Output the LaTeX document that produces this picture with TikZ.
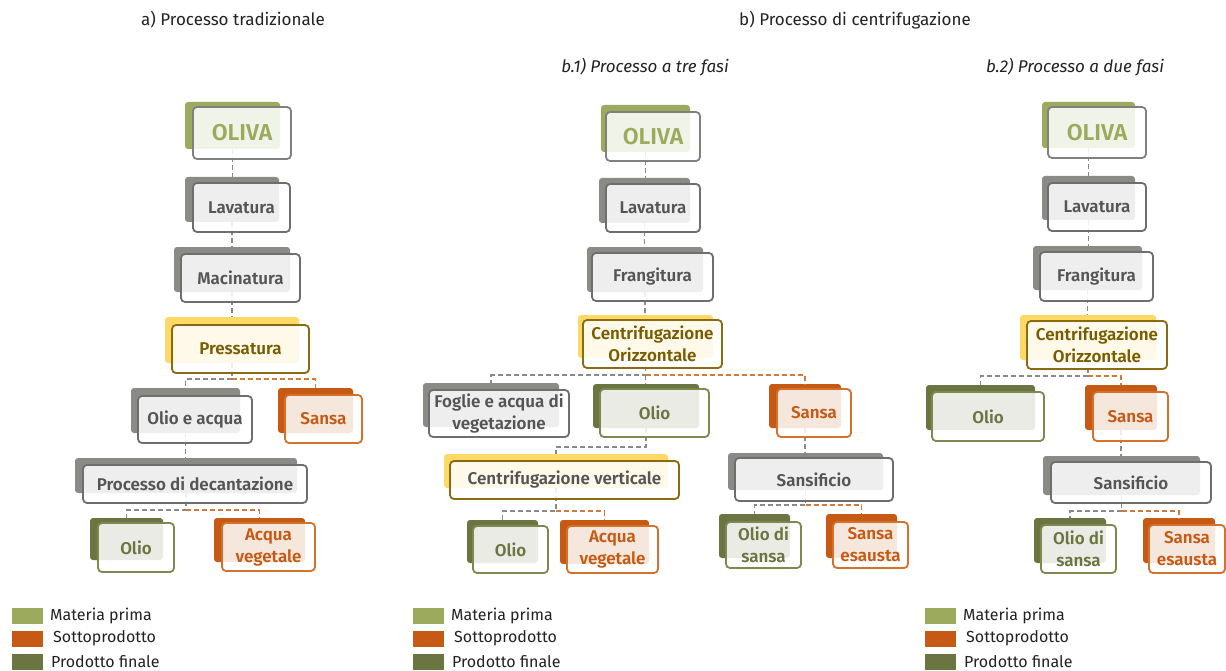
\documentclass[tikz,border=0pt]{standalone}
\usepackage{fontspec}
\setmainfont{Fira Sans}[BoldFont={Fira Sans SemiBold}, BoldItalicFont={Fira Sans SemiBold Italic}]
\usetikzlibrary{fit,calc}

\definecolor{rawgreen}{HTML}{9BAA5D}
\definecolor{byorange}{HTML}{C65A14}
\definecolor{prodolive}{HTML}{6B7541}
\definecolor{shadegray}{HTML}{8A8A87}
\definecolor{framegray}{HTML}{6E6E6E}
\definecolor{labelgray}{HTML}{555555}
\definecolor{shadeyellow}{HTML}{FFD966}
\definecolor{framegold}{HTML}{8C6A12}
\definecolor{labelgold}{HTML}{7A5C00}
\definecolor{frameolive}{HTML}{7E8850}
\definecolor{frameorange}{HTML}{D4712C}
\definecolor{linkgray}{HTML}{8A8A8A}
\definecolor{linkorange}{HTML}{D27A3A}
\definecolor{inkdark}{HTML}{222222}

\pgfdeclarelayer{paper}
\pgfdeclarelayer{shadows}
\pgfdeclarelayer{links}
\pgfsetlayers{paper,shadows,links,main}

\tikzset{
  backbase/.style={inner sep=0pt, rounded corners=3pt, draw=none},
  frontbase/.style={inner sep=0pt, rounded corners=4pt, line width=1.8pt,
    fill=white, fill opacity=0.86},
  labelbase/.style={inner sep=0pt, align=center,
    font=\bfseries\fontsize{17}{22}\selectfont},
  gray back/.style={backbase, fill=shadegray},
  gray front/.style={frontbase, draw=framegray},
  gray label/.style={labelbase, text=labelgray},
  gold back/.style={backbase, fill=shadeyellow},
  gold front/.style={frontbase, draw=framegold},
  gold label/.style={labelbase, text=labelgold},
  raw back/.style={backbase, fill=rawgreen},
  raw front/.style={frontbase, draw=gray},
  raw label/.style={labelbase, text=rawgreen, font=\bfseries\fontsize{23}{26}\selectfont},
  prod back/.style={backbase, fill=prodolive},
  prod front/.style={frontbase, draw=frameolive},
  prod label/.style={labelbase, text=prodolive},
  by back/.style={backbase, fill=byorange},
  by front/.style={frontbase, draw=frameorange},
  by label/.style={labelbase, text=byorange},
  glink/.style={draw=linkgray, line width=1.9pt, dash pattern=on 5pt off 3pt},
  olink/.style={draw=linkorange, line width=1.9pt, dash pattern=on 5pt off 3pt},
  heading/.style={text=inkdark, font=\fontsize{17}{20}\selectfont},
  subheading/.style={text=inkdark, font=\itshape\fontsize{17}{20}\selectfont},
  legendtext/.style={anchor=west, text=inkdark, inner sep=0pt, font=\fontsize{16}{18}\selectfont},
}

% #1 name, #2 kind, #3/#4 corners of the coloured backing, #5/#6 corners of the framed box, #7 label
\newcommand\procbox[7]{%
  \begin{pgfonlayer}{shadows}
    \node[#2 back, fit={(#3) (#4)}] (#1s) {};
  \end{pgfonlayer}
  \node[#2 front, fit={(#5) (#6)}] (#1) {};
  \node[#2 label] (#1t) at (#1.center) {#7};
}

\begin{document}
\begin{tikzpicture}[x=1pt, y=-1pt]
\begin{pgfonlayer}{paper}
  \fill[white] (0,0) rectangle (1226,671);
\end{pgfonlayer}
\useasboundingbox (0,0) rectangle (1226,671);

% headings
\node[heading] (ta) at (233,20) {a) Processo tradizionale};
\node[heading] (tb) at (855,20) {b) Processo di centrifugazione};
\node[subheading] (tb1) at (645,67) {b.1) Processo a tre fasi};
\node[subheading] (tb2) at (1075,67) {b.2) Processo a due fasi};

% ---------- a) traditional process ----------
\procbox{aOliva}{raw}{185,102}{280,149}{193,107}{291,159}{OLIVA}
\procbox{aLav}{gray}{185,177}{279,222}{193,183}{290,232}{Lavatura}
\procbox{aMac}{gray}{174,247}{290,292}{181,254}{300,302}{Macinatura}
\procbox{aPress}{gold}{165,317}{299,363}{172,325}{309,373}{Pressatura}
\procbox{aOA}{gray}{131,388}{240,433}{138,396}{252,443}{Olio e acqua}
\procbox{aSansa}{by}{278,388}{353,433}{285,395}{362,443}{Sansa}
\procbox{aDec}{gray}{75,458}{297,493}{83,465}{307,503}{Processo di decantazione}
\procbox{aOlio}{prod}{90,518}{163,560}{98,523}{174,572}{Olio}
\procbox{aAcqua}{by}{214,518}{305,562}{222,523}{315,571}{Acqua\\vegetale}

% ---------- b.1) three-phase process ----------
\procbox{bOliva}{raw}{601,105}{690,152}{606,112}{700,161}{OLIVA}
\procbox{bLav}{gray}{599,178}{690,223}{606,184}{700,232}{Lavatura}
\procbox{bFrang}{gray}{587,247}{703,292}{592,253}{713,301}{Frangitura}
\procbox{bCO}{gold}{578,315}{713,358}{583,320}{722,368}{Centrifugazione\\Orizzontale}
\procbox{bFoglie}{gray}{423,383}{559,427}{429,390}{569,437}{Foglie e acqua di\\vegetazione}
\procbox{bOlio}{prod}{593,384}{699,428}{600,389}{709,437}{Olio}
\procbox{bSansa}{by}{769,384}{841,428}{777,389}{851,437}{Sansa}
\procbox{bCV}{gold}{444,454}{668,488}{450,461}{679,499}{\textcolor{labelgray}{Centrifugazione verticale}}
\procbox{bOlioB}{prod}{467,520}{538,563}{473,526}{548,573}{Olio}
\procbox{bAcqua}{by}{560,520}{649,564}{567,526}{658,573}{Acqua\\vegetale}
\procbox{bSansif}{gray}{728,453}{883,490}{735,458}{893,501}{Sansificio}
\procbox{bOds}{prod}{719,514}{790,558}{726,522}{801,568}{Olio di\\sansa}
\procbox{bSE}{by}{826,514}{897,558}{833,522}{908,568}{Sansa\\esausta}

% ---------- b.2) two-phase process ----------
\procbox{cOliva}{raw}{1042,102}{1135,148}{1048,107}{1146,158}{OLIVA}
\procbox{cLav}{gray}{1042,176}{1135,220}{1048,183}{1146,231}{Lavatura}
\procbox{cFrang}{gray}{1033,246}{1142,290}{1040,252}{1153,301}{Frangitura}
\procbox{cCO}{gold}{1020,315}{1156,360}{1027,321}{1167,369}{Centrifugazione\\Orizzontale}
\procbox{cOlio}{prod}{926,385}{1035,430}{932,392}{1044,441}{Olio}
\procbox{cSansa}{by}{1085,385}{1157,430}{1093,392}{1168,441}{Sansa}
\procbox{cSansif}{gray}{1043,456}{1200,495}{1051,462}{1211,503}{Sansificio}
\procbox{cOds}{prod}{1034,518}{1106,563}{1041,525}{1116,573}{Olio di\\sansa}
\procbox{cSE}{by}{1143,518}{1215,563}{1149,525}{1225,573}{Sansa\\esausta}

% ---------- connectors ----------
\begin{pgfonlayer}{links}
  % a)
  \draw[glink] (aOlivas.south) -- (aOlivas.south |- aLavs.north);
  \draw[glink] (aLavs.south) -- (aLavs.south |- aMacs.north);
  \draw[glink] (aMacs.south) -- (aMacs.south |- aPresss.north);
  \coordinate (aJa) at ($(aPresss.south)+(0,16)$);
  \draw[glink] (aPresss.south) -- (aJa) -| (aOAs.north);
  \draw[olink] (aJa) -| (aSansas.north);
  \draw[glink] (aOAs.south) -- (aOAs.south |- aDecs.north);
  \coordinate (aJb) at ($(aDecs.south)+(0,17)$);
  \draw[glink] (aDecs.south) -- (aJb) -| (aOlios.north);
  \draw[olink] (aJb) -| (aAcquas.north);
  % b.1)
  \draw[glink] (bOlivas.south) -- (bOlivas.south |- bLavs.north);
  \draw[glink] (bLavs.south) -- (bLavs.south |- bFrangs.north);
  \draw[glink] (bFrangs.south) -- (bFrangs.south |- bCOs.north);
  \coordinate (bJa) at ($(bCOs.south)+(0,17)$);
  \draw[glink] (bCOs.south) -- (bJa) -| (bFoglies.north);
  \draw[glink] (bJa) -- (bJa |- bOlios.north);
  \draw[olink] (bJa) -| (bSansas.north);
  \coordinate (bJb) at ($(bOlios.south)+(0,19)$);
  \draw[glink] (bOlios.south) -- (bJb) -| (bCVs.north);
  \coordinate (bJc) at ($(bCVs.south)+(0,23)$);
  \draw[glink] (bCVs.south) -- (bJc) -| (bOlioBs.north);
  \draw[olink] (bJc) -| (bAcquas.north);
  \draw[glink] (bSansas.south) -- (bSansas.south |- bSansifs.north);
  \coordinate (bJd) at ($(bSansifs.south)+(0,15)$);
  \draw[glink] (bSansifs.south) -- (bJd) -| (bOdss.north);
  \draw[olink] (bJd) -| (bSEs.north);
  % b.2)
  \draw[glink] (cOlivas.south) -- (cOlivas.south |- cLavs.north);
  \draw[glink] (cLavs.south) -- (cLavs.south |- cFrangs.north);
  \draw[glink] (cFrangs.south) -- (cFrangs.south |- cCOs.north);
  \coordinate (cJa) at ($(cCOs.south)+(0,16)$);
  \draw[glink] (cCOs.south) -- (cJa) -| (cOlios.north);
  \draw[olink] (cJa) -| (cSansas.north);
  \draw[glink] (cSansas.south) -- (cSansas.south |- cSansifs.north);
  \coordinate (cJb) at ($(cSansifs.south)+(0,16)$);
  \draw[glink] (cSansifs.south) -- (cJb) -| (cOdss.north);
  \draw[olink] (cJb) -| (cSEs.north);
\end{pgfonlayer}

% ---------- legends ----------
\foreach \lx/\tag in {12/a, 413/b, 925/c} {
  \fill[rawgreen]  (\lx,608) rectangle ++(31,16);
  \fill[byorange]  (\lx,631) rectangle ++(31,16);
  \fill[prodolive] (\lx,654) rectangle ++(31,16);
  \node[legendtext] (\tag leg1) at (\lx+38,616) {Materia prima};
  \node[legendtext] (\tag leg2) at (\lx+41,638) {Sottoprodotto};
  \node[legendtext] (\tag leg3) at (\lx+39,662) {Prodotto finale};
}
\end{tikzpicture}
\end{document}
